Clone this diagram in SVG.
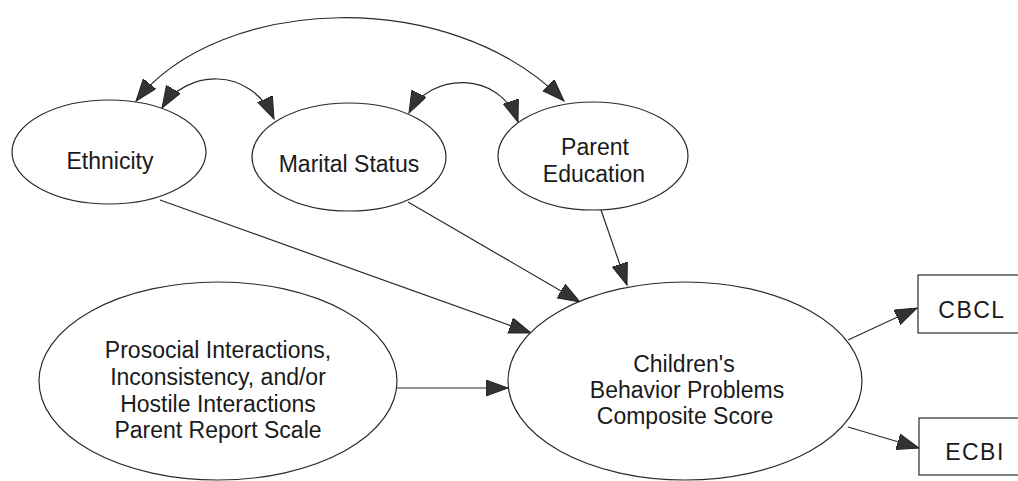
<svg xmlns="http://www.w3.org/2000/svg" width="1018" height="481" viewBox="0 0 1018 481">
<style>
.node ellipse, .node rect { fill: #ffffff; stroke: #2a2a2a; stroke-width: 1.2; }
.node text { font-family: "Liberation Sans", Arial, sans-serif; font-size: 23px; fill: #1a1a1a; text-anchor: middle; }
.conn path, .conn line { fill: none; stroke: #2a2a2a; stroke-width: 1.2; }
.conn .one { marker-end: url(#ah); }
.conn .two { marker-start: url(#ah); marker-end: url(#ah); }
</style>
<defs>
<marker id="ah" markerUnits="userSpaceOnUse" markerWidth="24" markerHeight="18" refX="22" refY="8" orient="auto-start-reverse" viewBox="0 0 24 18">
<path d="M0,0 L22,8 L0,16 Z" fill="#333333" stroke="#222222" stroke-width="1"/>
</marker>
</defs>
<rect x="0" y="0" width="1018" height="481" fill="#ffffff"/>

<g id="connectors" class="conn">
<path class="two" d="M136,101 C220,-5 450,-15 564,101"/>
<path class="two" d="M162,108 C185,70 250,65 274,119"/>
<path class="two" d="M409,113 C430,72 500,70 518,122"/>
<line class="one" x1="160" y1="200" x2="531" y2="333"/>
<line class="one" x1="408" y1="202" x2="580" y2="302"/>
<line class="one" x1="601" y1="210" x2="627" y2="285"/>
<line class="one" x1="397" y1="388" x2="508" y2="388"/>
<line class="one" x1="848" y1="340" x2="917" y2="308"/>
<line class="one" x1="848" y1="427" x2="919" y2="448"/>
</g>

<g id="ethnicity" class="node">
<ellipse cx="109" cy="152" rx="97" ry="52"/>
<text x="110" y="169">Ethnicity</text>
</g>

<g id="marital-status" class="node">
<ellipse cx="349" cy="157" rx="97" ry="54"/>
<text x="349" y="172">Marital Status</text>
</g>

<g id="parent-education" class="node">
<ellipse cx="593" cy="156" rx="95" ry="54"/>
<text x="595" y="155">Parent</text>
<text x="594" y="182">Education</text>
</g>

<g id="parent-report-scale" class="node">
<ellipse cx="218" cy="381" rx="179" ry="99"/>
<text x="218" y="358">Prosocial Interactions,</text>
<text x="218" y="385">Inconsistency, and/or</text>
<text x="218" y="412">Hostile Interactions</text>
<text x="218" y="438">Parent Report Scale</text>
</g>

<g id="behavior-problems" class="node">
<ellipse cx="685" cy="381" rx="177" ry="99"/>
<text x="684" y="372">Children's</text>
<text x="687" y="398">Behavior Problems</text>
<text x="685" y="424">Composite Score</text>
</g>

<g id="cbcl" class="node">
<rect x="918" y="275" width="120" height="58"/>
<text x="972" y="318" style="letter-spacing:1.5px">CBCL</text>
</g>

<g id="ecbi" class="node">
<rect x="919" y="418" width="120" height="57"/>
<text x="975" y="460" style="letter-spacing:1.5px">ECBI</text>
</g>
</svg>
